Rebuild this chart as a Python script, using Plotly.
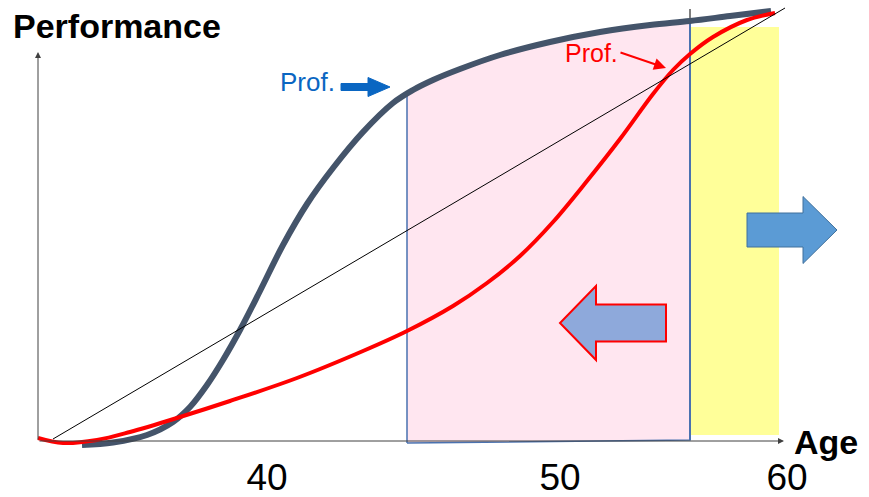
import numpy as np
import plotly.graph_objects as go

# ---- data (horizontal units ~ chart width, vertical units = performance) ----
dark_x = [82, 113, 147, 173, 190, 207, 223, 240, 260, 283, 307, 333, 363, 393, 413, 433, 460, 500, 550, 600, 650, 690, 730, 771]
dark_perf = [-4, -1.5, 6, 19, 34, 56, 81, 111, 150, 196, 237, 273, 309, 338, 351, 361, 372, 386, 399, 409, 416, 420, 425, 430]

red_x = [38, 63, 97, 130, 180, 230, 297, 363, 407, 453, 487, 520, 553, 587, 620, 653, 673, 690, 713, 747, 775]
red_perf = [3, -2, 1, 9, 24, 40, 63, 90, 110, 135, 158, 185, 219, 260, 302, 347, 371, 387, 404, 421, 428]

diag_x = [53, 785]
diag_perf = [2, 433]

tick_pos = [267, 560, 787]
tick_labels = ["40", "50", "60"]

pink_span = [407, 690]
yellow_span = [690, 779]
yellow_top = 414
yellow_bottom = 6

# ---- figure ----
fig = go.Figure()

# pink band under the dark curve
px0, px1 = pink_span
top_x = [px0] + [x for x in dark_x if px0 < x < px1] + [px1]
top_y = list(np.interp(top_x, dark_x, dark_perf))
poly_x = [px0] + top_x + [px1, px0]
poly_y = [-2] + top_y + [1, -2]
fig.add_trace(go.Scatter(x=poly_x, y=poly_y, mode="lines", fill="toself",
                         fillcolor="#FFE6F0", line=dict(color="#4A72B0", width=1.5),
                         hoverinfo="skip", showlegend=False))

# yellow band
fig.add_shape(type="rect", xref="x", yref="y", x0=yellow_span[0], x1=yellow_span[1],
              y0=yellow_bottom, y1=yellow_top, fillcolor="#FFFF99",
              line=dict(width=0), layer="below")

# thin black marker above the pink border
fig.add_trace(go.Scatter(x=[690, 690], y=[405, 432], mode="lines",
                         line=dict(color="black", width=1), hoverinfo="skip", showlegend=False))
# right border of pink band (over yellow)
fig.add_trace(go.Scatter(x=[690, 690], y=[1, 420], mode="lines",
                         line=dict(color="#4A72B0", width=2), hoverinfo="skip", showlegend=False))

# curves
fig.add_trace(go.Scatter(x=dark_x, y=dark_perf, mode="lines",
                         line=dict(color="#44546A", width=6, shape="spline", smoothing=1.0),
                         hoverinfo="skip", showlegend=False))
fig.add_trace(go.Scatter(x=red_x, y=red_perf, mode="lines",
                         line=dict(color="#FF0000", width=4, shape="spline", smoothing=1.0),
                         hoverinfo="skip", showlegend=False))
fig.add_trace(go.Scatter(x=diag_x, y=diag_perf, mode="lines",
                         line=dict(color="black", width=1),
                         hoverinfo="skip", showlegend=False))

# block arrows
def block_arrow(tail, base, tip, cy, shaft_half, head_half):
    pts = [(tail, cy + shaft_half), (base, cy + shaft_half), (base, cy + head_half),
           (tip, cy), (base, cy - head_half), (base, cy - shaft_half), (tail, cy - shaft_half)]
    return "M " + " L ".join(f"{x},{y}" for x, y in pts) + " Z"

left_arrow = dict(tail=666, base=596, tip=560, cy=118, shaft_half=18.5, head_half=37)
right_arrow = dict(tail=747, base=803, tip=837, cy=211, shaft_half=17, head_half=33.5)
small_arrow = dict(tail=341, base=368, tip=390, cy=354, shaft_half=3.5, head_half=9.5)

fig.add_shape(type="path", path=block_arrow(**left_arrow), xref="x", yref="y",
              fillcolor="#8EA9DB", line=dict(color="#FF0000", width=2), layer="above")
fig.add_shape(type="path", path=block_arrow(**right_arrow), xref="x", yref="y",
              fillcolor="#5B9BD5", line=dict(color="#41719C", width=1), layer="above")
fig.add_shape(type="path", path=block_arrow(**small_arrow), xref="x", yref="y",
              fillcolor="#0A66C2", line=dict(color="#0A66C2", width=1), layer="above")

# axis arrows
fig.add_annotation(x=784, y=0, ax=38, ay=0, xref="x", yref="y", axref="x", ayref="y",
                   text="", showarrow=True, arrowhead=2, arrowsize=1.2, arrowwidth=1,
                   arrowcolor="#404040")
fig.add_annotation(x=38, y=389, ax=38, ay=0, xref="x", yref="y", axref="x", ayref="y",
                   text="", showarrow=True, arrowhead=2, arrowsize=1.2, arrowwidth=1,
                   arrowcolor="#404040")
# red pointer
fig.add_annotation(x=666, y=373, ax=619, ay=389, xref="x", yref="y", axref="x", ayref="y",
                   text="", showarrow=True, arrowhead=2, arrowsize=1.2, arrowwidth=2,
                   arrowcolor="#FF0000")

font = "Liberation Sans, Arial, sans-serif"
fig.add_annotation(x=117, y=415, xref="x", yref="y", text="<b>Performance</b>", showarrow=False,
                   font=dict(family=font, size=34, color="black"), xanchor="center", yanchor="middle")
fig.add_annotation(x=826, y=-1, xref="x", yref="y", text="<b>Age</b>", showarrow=False,
                   font=dict(family=font, size=34, color="black"), xanchor="center", yanchor="middle")
fig.add_annotation(x=307, y=359, xref="x", yref="y", text="Prof.", showarrow=False,
                   font=dict(family=font, size=26, color="#0A66C2"), xanchor="center", yanchor="middle")
fig.add_annotation(x=591, y=388, xref="x", yref="y", text="Prof.", showarrow=False,
                   font=dict(family=font, size=25, color="#FF0000"), xanchor="center", yanchor="middle")

fig.update_layout(
    width=869, height=497,
    margin=dict(l=0, r=0, t=0, b=45),
    plot_bgcolor="white", paper_bgcolor="white",
    showlegend=False,
    xaxis=dict(range=[0, 869], showgrid=False, zeroline=False, showline=False,
               tickvals=tick_pos, ticktext=tick_labels, ticks="",
               tickfont=dict(family=font, size=37, color="black"), fixedrange=True),
    yaxis=dict(range=[-11, 441], visible=False, fixedrange=True),
)

fig.write_html("out.html", config={"displayModeBar": False},
               post_script="document.body.style.margin='0';document.body.style.overflow='hidden';")
